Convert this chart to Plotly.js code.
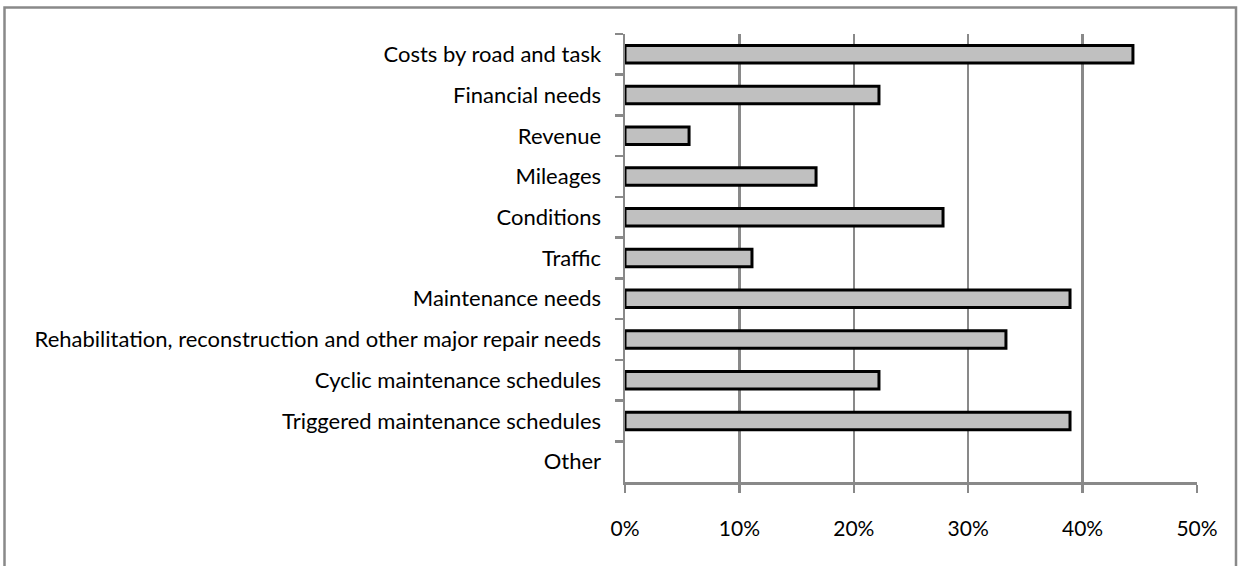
<!DOCTYPE html>
<html>
<head>
<meta charset="utf-8">
<script src="https://cdn.plot.ly/plotly-3.0.1.min.js"></script>
<style>
  html, body { margin: 0; padding: 0; background: #ffffff; }
  #chart { width: 1239px; height: 566px; }
</style>
</head>
<body>
<div id="chart"></div>
<script>
// Share of respondents whose system reports each kind of output (%)
const categories = [
  "Costs by road and task",
  "Financial needs",
  "Revenue",
  "Mileages",
  "Conditions",
  "Traffic",
  "Maintenance needs",
  "Rehabilitation, reconstruction and other major repair needs",
  "Cyclic maintenance schedules",
  "Triggered maintenance schedules",
  "Other"
];
const shares = [44.4, 22.2, 5.6, 16.7, 27.8, 11.1, 38.9, 33.3, 22.2, 38.9, 0];
const xTickValues = [0, 10, 20, 30, 40, 50];
const xTickLabels = ["0%", "10%", "20%", "30%", "40%", "50%"];

const axisGray = "#898989";
const labelFont = { family: "Lato, 'Open Sans', sans-serif", size: 22, color: "#000000" };
const xLabelFont = { family: "Lato, 'Open Sans', sans-serif", size: 21, color: "#000000" };

// plot box in pixels, used to place the outer frame in paper units
const plotLeft = 625, plotRight = 1197, plotTop = 34, plotBottom = 482;
const W = 1239, H = 566;
const pw = plotRight - plotLeft, ph = plotBottom - plotTop;
const px = v => (v - plotLeft) / pw;
const py = v => (plotBottom - v) / ph;

const trace = {
  type: "bar",
  orientation: "h",
  y: categories,
  x: shares,
  width: 0.43,
  marker: {
    color: "#c0c0c0",
    // empty bars get no outline
    line: { color: "#000000", width: shares.map(v => (v > 0 ? 3 : 0)) }
  },
  hoverinfo: "y+x"
};

const layout = {
  width: W,
  height: H,
  margin: { l: plotLeft, r: W - plotRight, t: plotTop, b: H - plotBottom },
  paper_bgcolor: "#ffffff",
  plot_bgcolor: "#ffffff",
  showlegend: false,
  font: labelFont,
  xaxis: {
    range: [0, 50],
    tickvals: xTickValues,
    ticktext: xTickLabels,
    showgrid: true,
    gridcolor: axisGray,
    gridwidth: 2.5,
    zeroline: false,
    showline: true,
    linecolor: axisGray,
    linewidth: 2.5,
    ticks: "outside",
    ticklen: 8,
    tickwidth: 2.5,
    tickcolor: axisGray,
    tickfont: xLabelFont,
    ticklabelstandoff: 18,
    fixedrange: true
  },
  yaxis: {
    type: "category",
    autorange: false,
    range: [categories.length - 0.5, -0.5],
    showgrid: false,
    zeroline: false,
    showline: true,
    linecolor: axisGray,
    linewidth: 2.5,
    ticks: "outside",
    tickson: "boundaries",
    ticklen: 8,
    tickwidth: 2.5,
    tickcolor: axisGray,
    tickfont: labelFont,
    ticklabelstandoff: 17,
    fixedrange: true
  },
  shapes: [{
    type: "rect",
    xref: "paper", yref: "paper",
    x0: px(4.5), x1: px(1236), y0: py(575), y1: py(7.5),
    line: { color: axisGray, width: 2.5 },
    fillcolor: "rgba(0,0,0,0)",
    layer: "below"
  }]
};

Plotly.newPlot("chart", [trace], layout, { displayModeBar: false, staticPlot: true });
</script>
</body>
</html>
